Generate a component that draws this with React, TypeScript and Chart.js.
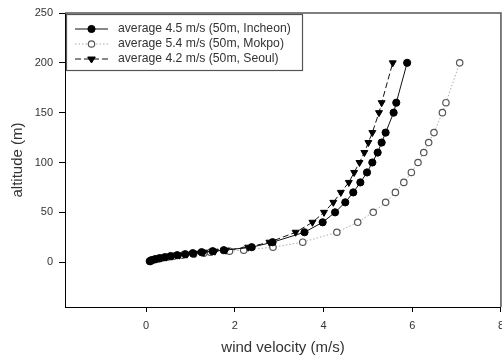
import React, { useEffect, useRef } from "react";
import { Chart, registerables } from "chart.js";

Chart.register(...registerables);

const heights = [1, 2, 3, 4, 5, 6, 7, 8, 9, 10, 11, 12, 15, 20, 30, 40, 50, 60, 70, 80, 90, 100, 110, 120, 130, 150, 160, 200];
const incheon = [0.08, 0.12, 0.2, 0.3, 0.42, 0.55, 0.7, 0.88, 1.05, 1.25, 1.5, 1.75, 2.38, 2.85, 3.57, 3.98, 4.26, 4.49, 4.67, 4.83, 4.98, 5.1, 5.22, 5.31, 5.4, 5.58, 5.64, 5.885];
const mokpo = [0.1, 0.15, 0.25, 0.35, 0.48, 0.62, 0.82, 1.07, 1.3, 1.45, 1.88, 2.2, 2.86, 3.53, 4.3, 4.77, 5.12, 5.4, 5.62, 5.81, 5.98, 6.13, 6.26, 6.37, 6.49, 6.68, 6.76, 7.07];
const seoul = [0.1, 0.15, 0.22, 0.32, 0.45, 0.58, 0.75, 0.92, 1.1, 1.3, 1.55, 1.8, 2.3, 2.78, 3.37, 3.75, 4.01, 4.22, 4.39, 4.57, 4.69, 4.81, 4.92, 5.01, 5.1, 5.25, 5.31, 5.56];
const seriesLabels = [
  "average 4.5 m/s (50m, Incheon)",
  "average 5.4 m/s (50m, Mokpo)",
  "average 4.2 m/s (50m, Seoul)",
];
const xTicks = [0, 2, 4, 6, 8];
const yTicks = [0, 50, 100, 150, 200, 250];

const FONT = "'Liberation Sans', Arial, sans-serif";

const toPoints = (xs: number[]) => xs.map((x, i) => ({ x, y: heights[i] }));

const frameLegendPlugin = {
  id: "frameLegend",
  afterDraw(chart: any) {
    const { ctx, chartArea } = chart;
    ctx.save();
    // top and right frame
    ctx.strokeStyle = "#555";
    ctx.lineWidth = 1.5;
    ctx.beginPath();
    ctx.moveTo(chartArea.left, chartArea.top);
    ctx.lineTo(chartArea.right, chartArea.top);
    ctx.lineTo(chartArea.right, chartArea.bottom);
    ctx.stroke();

    // legend box
    const bx = 66.5, by = 14.5, bw = 236, bh = 56;
    ctx.fillStyle = "#fff";
    ctx.fillRect(bx, by, bw, bh);
    ctx.strokeStyle = "#555";
    ctx.lineWidth = 1.2;
    ctx.strokeRect(bx, by, bw, bh);

    const rows = [29, 44, 59];
    [0, 1, 2].forEach((i) => {
      const ds: any = chart.data.datasets[i];
      const y = rows[i];
      ctx.save();
      ctx.strokeStyle = ds.borderColor;
      ctx.lineWidth = ds.borderWidth;
      ctx.setLineDash(ds.borderDash || []);
      ctx.beginPath();
      ctx.moveTo(75, y);
      ctx.lineTo(108, y);
      ctx.stroke();
      ctx.setLineDash([]);
      ctx.fillStyle = ds.pointBackgroundColor;
      ctx.strokeStyle = ds.pointBorderColor;
      ctx.lineWidth = ds.pointBorderWidth;
      const cx = 91.5;
      ctx.beginPath();
      if (ds.pointStyle === "triangle") {
        const r = ds.pointRadius;
        ctx.moveTo(cx - r * 0.95, y - r * 0.5);
        ctx.lineTo(cx + r * 0.95, y - r * 0.5);
        ctx.lineTo(cx, y + r);
        ctx.closePath();
      } else {
        ctx.arc(cx, y, ds.pointRadius, 0, Math.PI * 2);
      }
      ctx.fill();
      ctx.stroke();
      ctx.restore();
      ctx.fillStyle = "#333";
      ctx.font = `12.2px ${FONT}`;
      ctx.textBaseline = "middle";
      ctx.textAlign = "left";
      ctx.fillText(seriesLabels[i], 118, y);
    });
    ctx.restore();
  },
};

export default function App() {
  const ref = useRef<HTMLCanvasElement | null>(null);
  useEffect(() => {
    if (!ref.current) return;
    const chart = new Chart(ref.current, {
      type: "scatter",
      data: {
        datasets: [
          {
            label: seriesLabels[0],
            data: toPoints(incheon),
            showLine: true,
            borderColor: "#111",
            borderWidth: 1,
            pointStyle: "circle",
            pointRadius: 3.6,
            pointBackgroundColor: "#000",
            pointBorderColor: "#000",
            pointBorderWidth: 1,
            order: 1,
          },
          {
            label: seriesLabels[1],
            data: toPoints(mokpo),
            showLine: true,
            borderColor: "#aaa",
            borderWidth: 1,
            borderDash: [1.5, 2],
            pointStyle: "circle",
            pointRadius: 3.2,
            pointBackgroundColor: "#fff",
            pointBorderColor: "#555",
            pointBorderWidth: 1.2,
            order: 3,
          },
          {
            label: seriesLabels[2],
            data: toPoints(seoul),
            showLine: true,
            borderColor: "#111",
            borderWidth: 1,
            borderDash: [6, 3],
            pointStyle: "triangle",
            rotation: 180,
            pointRadius: 4,
            pointBackgroundColor: "#000",
            pointBorderColor: "#000",
            pointBorderWidth: 1,
            order: 2,
          } as any,
        ],
      },
      options: {
        responsive: false,
        animation: false,
        layout: { padding: { left: 0, top: 13, right: 0, bottom: 0 } },
        plugins: { legend: { display: false }, tooltip: { enabled: false } },
        scales: {
          x: {
            type: "linear",
            min: -1.83,
            max: 8,
            afterBuildTicks: (s: any) => {
              s.ticks = xTicks.map((v) => ({ value: v }));
            },
            afterFit: (s: any) => {
              s.height = 51;
            },
            ticks: {
              font: { family: FONT, size: 11 },
              color: "#333",
              padding: 7,
              maxRotation: 0,
              autoSkip: false,
            },
            grid: { drawOnChartArea: false, drawTicks: true, tickLength: 5, color: "#000" },
            border: { display: true, color: "#000", width: 1 },
            title: {
              display: true,
              text: "wind velocity (m/s)",
              font: { family: FONT, size: 15 },
              color: "#333",
              padding: { top: 0, bottom: 1.5 },
            },
          },
          y: {
            type: "linear",
            min: -45,
            max: 250,
            afterBuildTicks: (s: any) => {
              s.ticks = yTicks.map((v) => ({ value: v }));
            },
            afterFit: (s: any) => {
              s.width = 65;
              s.paddingTop = 0;
              s.paddingBottom = 0;
            },
            ticks: {
              font: { family: FONT, size: 11 },
              color: "#333",
              padding: 6,
              autoSkip: false,
            },
            grid: { drawOnChartArea: false, drawTicks: true, tickLength: 6, color: "#000" },
            border: { display: true, color: "#000", width: 1 },
            title: {
              display: true,
              text: "altitude (m)",
              font: { family: FONT, size: 15 },
              color: "#333",
              padding: { top: 9, bottom: 0 },
            },
          },
        },
      },
      plugins: [frameLegendPlugin],
    });
    return () => chart.destroy();
  }, []);
  return (
    <div style={{ position: "fixed", left: 0, top: 0, width: 502, height: 358, overflow: "hidden", background: "#fff" }}>
      <canvas ref={ref} width={511} height={358} style={{ display: "block" }} />
    </div>
  );
}
